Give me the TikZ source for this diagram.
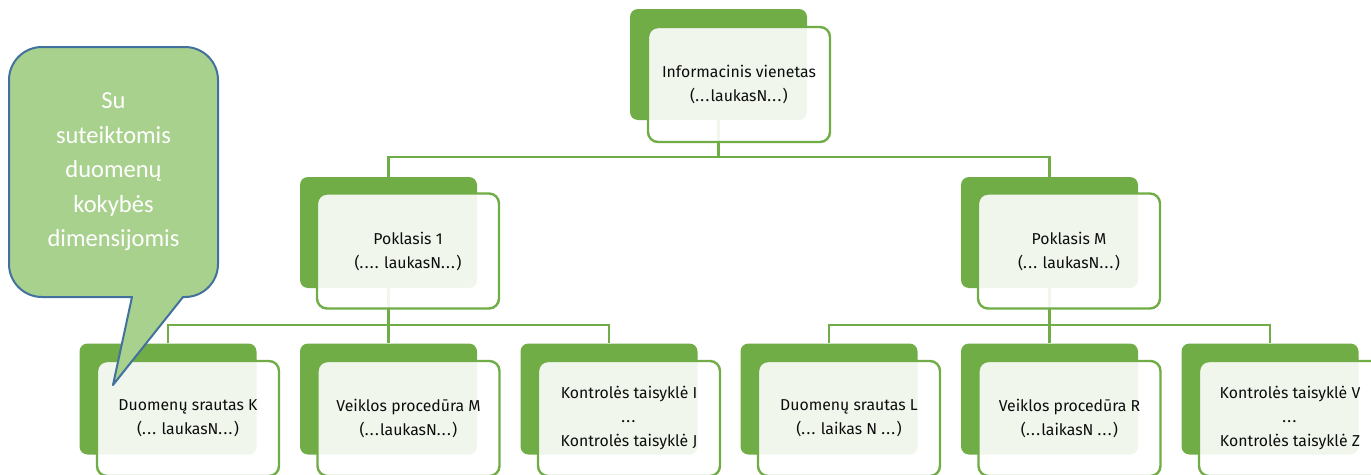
\documentclass[tikz,border=0pt]{standalone}
\usepackage{fontspec}
\newfontfamily\boxfont{Fira Sans}
\newfontfamily\callfont{Carlito}
\definecolor{grn}{HTML}{70AD47}
\definecolor{calfill}{HTML}{A9D18E}
\definecolor{calline}{HTML}{41719C}
\definecolor{txt}{HTML}{0D0D0D}
\newcommand{\dd}{.\kern1.3pt}
\begin{document}
\begin{tikzpicture}[x=1pt,y=-1pt,
  darkbox/.style={fill=grn, rounded corners=8pt, minimum width=177pt, minimum height=111pt, inner sep=0pt},
  frontbox/.style={draw=grn, line width=2.4pt, fill=white, fill opacity=0.9, text opacity=1, rounded corners=10pt, minimum width=182pt, minimum height=115pt, inner sep=0pt, align=center, font=\boxfont\fontsize{15.8}{24}\selectfont, text=txt},
  conn/.style={draw=grn, line width=2.4pt},
  callout/.style={fill=calfill, draw=calline, line width=2pt, line join=round},
  calltext/.style={text=white, align=center, font=\callfont\fontsize{24.5}{34.5}\selectfont}]
\useasboundingbox (0,0) rectangle (1371,474);
% dark boxes
\node[darkbox] (d0) at (718.5,64.5) {};
\node[darkbox] (d1) at (388.5,232.5) {};
\node[darkbox] (d2) at (1049.5,232.5) {};
\node[darkbox] (d3) at (168,399) {};
\node[darkbox] (d4) at (388.5,399) {};
\node[darkbox] (d5) at (609,399) {};
\node[darkbox] (d6) at (829,399) {};
\node[darkbox] (d7) at (1049.5,399) {};
\node[darkbox] (d8) at (1270,399) {};
% connectors
\coordinate (bar0) at (718.5,157);
\coordinate (bar1) at (388.5,325);
\coordinate (bar2) at (1049.5,325);
\draw[conn] (d0.south) -- (bar0);
\draw[conn] (d1.north) |- (bar0) -| (d2.north);
\draw[conn] (d1.south) -- (d4.north);
\draw[conn] (d3.north) |- (bar1) -| (d5.north);
\draw[conn] (d2.south) -- (d7.north);
\draw[conn] (d6.north) |- (bar2) -| (d8.north);
% front boxes
\node[frontbox] (f0) at (739,84.5) {Informacinis vienetas\\(\dd\dd\dd laukasN\dd\dd\dd)};
\node[frontbox] (f1) at (408,251) {Poklasis 1\\(\dd\dd\dd\dd\ laukasN\dd\dd\dd)};
\node[frontbox] (f2) at (1069,251) {Poklasis M\\(\dd\dd\dd\ laukasN\dd\dd\dd)};
\node[frontbox] (f3) at (188,418.5) {Duomenų srautas K\\(\dd\dd\dd\ laukasN\dd\dd\dd)};
\node[frontbox] (f4) at (408.5,418.5) {Veiklos procedūra M\\(\dd\dd\dd laukasN\dd\dd\dd)};
\node[frontbox] (f5) at (629,418.5) {Kontrolės taisyklė I\\\dd\dd\dd\\Kontrolės taisyklė J};
\node[frontbox] (f6) at (849,418.5) {Duomenų srautas L\\(\dd\dd\dd\ laikas N \dd\dd\dd)};
\node[frontbox] (f7) at (1069.5,418.5) {Veiklos procedūra R\\(\dd\dd\dd laikasN \dd\dd\dd)};
\node[frontbox] (f8) at (1290,418.5) {Kontrolės taisyklė V\\\dd\dd\dd\\Kontrolės taisyklė Z};
% callout
\coordinate (tip) at (113,385);
\draw[callout] (tip) -- (132,297) [rounded corners=33pt] -- (9,297) -- (9,47) -- (218,47) -- (218,297) [sharp corners] -- (183,297) -- cycle;
\node[calltext] (ct) at (113.5,172) {Su\\suteiktomis\\duomenų\\kokybės\\dimensijomis};
\end{tikzpicture}
\end{document}
